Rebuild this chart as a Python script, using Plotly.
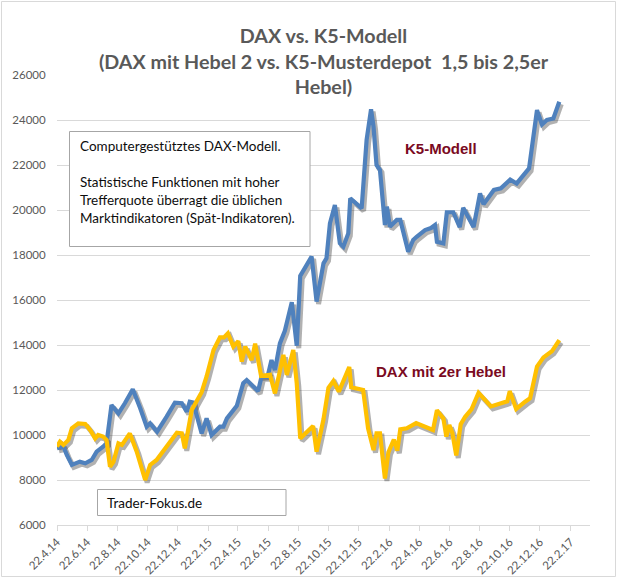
import plotly.graph_objects as go
import pandas as pd

# ---------------- data ----------------
k5_dates = ["2014-04-22","2014-05-05","2014-05-12","2014-05-22","2014-06-07","2014-06-18","2014-07-01","2014-07-11",
            "2014-07-24","2014-07-31","2014-08-10","2014-08-24","2014-09-06","2014-09-22","2014-10-07","2014-10-20",
            "2014-10-27","2014-11-10","2014-11-29","2014-12-16","2014-12-30","2015-01-09","2015-01-15","2015-01-22",
            "2015-02-08","2015-02-18","2015-02-28","2015-03-17","2015-03-24","2015-03-31","2015-04-20","2015-05-03",
            "2015-05-10","2015-06-02","2015-06-09","2015-06-21","2015-06-29","2015-07-06","2015-07-16","2015-07-26",
            "2015-08-09","2015-08-19","2015-08-26","2015-09-18","2015-09-28","2015-10-12","2015-10-18","2015-10-25",
            "2015-11-04","2015-11-14","2015-11-21","2015-12-01","2015-12-05","2015-12-28","2016-01-07","2016-01-16",
            "2016-01-21","2016-01-27","2016-02-03","2016-02-13","2016-02-17","2016-02-23","2016-03-08","2016-03-15",
            "2016-03-31","2016-04-10","2016-04-17","2016-05-04","2016-05-16","2016-05-24","2016-05-28","2016-06-10",
            "2016-06-17","2016-06-30","2016-07-13","2016-07-20","2016-08-10","2016-08-23","2016-08-30","2016-09-20",
            "2016-10-04","2016-10-23","2016-11-05","2016-11-30","2016-12-16","2016-12-26","2017-01-05","2017-01-18",
            "2017-01-30"]
k5_values = [9410, 9480, 9110, 8670, 8815, 8740, 8890, 9260, 9480, 9630, 11330, 10960, 11410, 12030, 11190, 10370,
             10520, 10150, 10810, 11440, 11410, 11040, 11480, 11440, 10070, 10740, 10000, 10370, 10370, 10740, 11300,
             12300, 12440, 11950, 12600, 12590, 13330, 12890, 14070, 14630, 15900, 13970, 17070, 17930, 15930, 17630,
             17850, 19410, 20220, 18520, 18370, 18960, 20520, 20070, 23110, 24480, 23700, 22000, 21780, 19330, 20150,
             19260, 19560, 19560, 18150, 18670, 18810, 19110, 19200, 19330, 18590, 18520, 19900, 19900, 19240, 20100,
             19240, 20740, 20260, 20890, 20960, 21350, 21180, 21850, 24440, 23800, 24000, 24070, 24810]

dax_dates = ["2014-04-22","2014-04-28","2014-05-05","2014-05-15","2014-05-22","2014-06-04","2014-06-18","2014-06-28",
             "2014-07-08","2014-07-14","2014-07-24","2014-07-31","2014-08-07","2014-08-14","2014-08-24","2014-08-31",
             "2014-09-16","2014-09-30","2014-10-17","2014-10-27","2014-11-09","2014-11-26","2014-12-20","2014-12-30",
             "2015-01-05","2015-01-19","2015-02-08","2015-02-18","2015-03-04","2015-03-17","2015-03-25","2015-04-02",
             "2015-04-13","2015-04-23","2015-04-30","2015-05-07","2015-05-20","2015-05-27","2015-06-08","2015-06-26",
             "2015-07-06","2015-07-23","2015-07-30","2015-08-12","2015-08-19","2015-08-26","2015-09-21","2015-09-28",
             "2015-10-12","2015-10-22","2015-11-01","2015-11-12","2015-11-21","2015-12-03","2015-12-07","2015-12-31",
             "2016-01-10","2016-01-21","2016-01-27","2016-02-03","2016-02-13","2016-02-20","2016-03-02","2016-03-09",
             "2016-03-15","2016-03-28","2016-04-16","2016-05-20","2016-05-28","2016-06-10","2016-06-16","2016-06-22",
             "2016-06-28","2016-07-06","2016-07-15","2016-07-24","2016-08-06","2016-08-20","2016-09-14","2016-09-29",
             "2016-10-17","2016-10-22","2016-11-04","2016-11-22","2016-12-02","2016-12-16","2016-12-29","2017-01-15",
             "2017-01-30"]
dax_values = [9480, 9700, 9560, 9780, 10300, 10520, 10490, 10220, 9850, 10000, 9930, 9780, 8590, 8810, 9630, 9560,
              10070, 9260, 8000, 8670, 8890, 9410, 10100, 10070, 9410, 11110, 11900, 12600, 13780, 14340, 14340, 14520,
              13930, 14170, 13260, 13930, 13330, 14060, 12630, 12680, 11850, 13560, 12670, 13780, 12300, 9850, 10400,
              9260, 10700, 12100, 12400, 11930, 12440, 13020, 12120, 12000, 10300, 9330, 10070, 10070, 8070, 9230,
              9800, 9300, 10250, 10300, 10530, 10220, 11100, 10740, 9930, 10440, 10100, 9090, 10480, 10810, 11150,
              11870, 11270, 11380, 11500, 11950, 11160, 11480, 11630, 13040, 13450, 13720, 14220]

tick_dates = ["2014-04-22","2014-06-22","2014-08-22","2014-10-22","2014-12-22","2015-02-22","2015-04-22","2015-06-22",
              "2015-08-22","2015-10-22","2015-12-22","2016-02-22","2016-04-22","2016-06-22","2016-08-22","2016-10-22",
              "2016-12-22","2017-02-22"]
tick_labels = ["22.4.14","22.6.14","22.8.14","22.10.14","22.12.14","22.2.15","22.4.15","22.6.15","22.8.15",
               "22.10.15","22.12.15","22.2.16","22.4.16","22.6.16","22.8.16","22.10.16","22.12.16","22.2.17"]

series_names = ["K5-Modell", "DAX mit 2er Hebel"]
title_text = "DAX vs. K5-Modell<br>(DAX mit Hebel 2 vs. K5-Musterdepot  1,5 bis 2,5er<br>Hebel)"
info_lines = ["Computergestütztes DAX-Modell.", "",
              "Statistische Funktionen mit hoher",
              "Trefferquote überragt die üblichen",
              "Marktindikatoren (Spät-Indikatoren)."]
site_text = "Trader-Fokus.de"

# ---------------- layout geometry ----------------
W, H = 618, 579
L, R, T, B = 57, 590, 75, 525
X0, X1 = pd.Timestamp("2014-04-22"), pd.Timestamp("2017-04-02")
Y0, Y1 = 6000, 26000


def px(x):
    return (x - L) / (R - L)


def py(y):
    return (B - y) / (B - T)


days_per_px = (X1 - X0) / (R - L)
val_per_px = (Y1 - Y0) / (B - T)
SH_DX, SH_DY = 2.0, 2.5
fmt = "%Y-%m-%d %H:%M:%S"
shadow_xrange = [(X0 - SH_DX * days_per_px).strftime(fmt), (X1 - SH_DX * days_per_px).strftime(fmt)]
shadow_yrange = [Y0 + SH_DY * val_per_px, Y1 + SH_DY * val_per_px]

BLUE = "#4F81BD"
GOLD = "#FFC000"
SHADOW = "rgba(40,40,40,0.36)"
GRID = "#D9D9D9"
AXTXT = "#595959"
LABEL_RED = "#7A0A22"
TXT = "#0D0D0D"

fig = go.Figure()

# shadows (drawn on offset axes)
for d, v in [(k5_dates, k5_values), (dax_dates, dax_values)]:
    fig.add_trace(go.Scatter(x=d, y=v, mode="lines", xaxis="x", yaxis="y",
                             line=dict(color=SHADOW, width=5),
                             hoverinfo="skip", showlegend=False))

# main series
fig.add_trace(go.Scatter(x=k5_dates, y=k5_values, mode="lines", name=series_names[0],
                         xaxis="x2", yaxis="y2", line=dict(color=BLUE, width=4.2), showlegend=False))
fig.add_trace(go.Scatter(x=dax_dates, y=dax_values, mode="lines", name=series_names[1],
                         xaxis="x2", yaxis="y2", line=dict(color=GOLD, width=4.2), showlegend=False))

annotations = []
for i, line in enumerate(info_lines):
    if line:
        annotations.append(dict(text=line, xref="paper", yref="paper", x=px(78), y=py(146 + i * 18.1),
                                xanchor="left", yanchor="middle", align="left", showarrow=False,
                                font=dict(family="Lato", size=13.5, color=TXT)))
annotations += [
    dict(text=site_text, xref="paper", yref="paper", x=px(105), y=py(502.5), xanchor="left",
         yanchor="middle", align="left", showarrow=False, font=dict(family="Lato", size=13.5, color=TXT)),
    dict(text="<b>" + series_names[0] + "</b>", xref="paper", yref="paper", x=px(441), y=py(148),
         xanchor="center", yanchor="middle", showarrow=False,
         font=dict(family="Liberation Sans", size=15, color=LABEL_RED)),
    dict(text="<b>" + series_names[1] + "</b>", xref="paper", yref="paper", x=px(441), y=py(371),
         xanchor="center", yanchor="middle", showarrow=False,
         font=dict(family="Liberation Sans", size=15, color=LABEL_RED)),
]

fig.update_layout(
    width=W, height=H, autosize=False,
    margin=dict(l=L, r=W - R, t=T, b=H - B, pad=0, autoexpand=False),
    paper_bgcolor="white", plot_bgcolor="white",
    font=dict(family="Lato, 'Open Sans', sans-serif", color=AXTXT),
    title=dict(text="<b>" + title_text + "</b>", x=0.5, xref="paper", xanchor="center",
               y=1 - 43 / H, yref="container", yanchor="middle",
               font=dict(family="Lato", size=19.7, color=AXTXT)),
    xaxis=dict(type="date", range=shadow_xrange, visible=False, domain=[0, 1], anchor="y", automargin=False),
    yaxis=dict(range=shadow_yrange, visible=False, domain=[0, 1], anchor="x", automargin=False),
    xaxis2=dict(type="date", range=[X0.strftime(fmt), X1.strftime(fmt)], overlaying="x", anchor="y2",
                side="bottom", tickmode="array", tickvals=tick_dates, ticktext=tick_labels,
                tickangle=-45, showgrid=False, zeroline=False, showline=True, linecolor=GRID, linewidth=1,
                ticks="outside", ticklen=5, tickcolor=GRID, tickwidth=1, automargin=False,
                tickfont=dict(family="Lato", size=11.5, color=AXTXT)),
    yaxis2=dict(range=[Y0, Y1], overlaying="y", anchor="x2", side="left", tickmode="linear", tick0=Y0,
                dtick=2000, tickformat="d", showgrid=True, gridcolor=GRID, gridwidth=1, zeroline=False,
                showline=False, ticks="outside", ticklen=8, tickcolor="rgba(0,0,0,0)", automargin=False,
                tickfont=dict(family="Lato", size=11.5, color=AXTXT)),
    shapes=[
        dict(type="rect", xref="paper", yref="paper", x0=px(1.5), x1=px(615.5), y0=py(1.5), y1=py(576.5),
             line=dict(color=GRID, width=1), fillcolor="rgba(0,0,0,0)", layer="below"),
        dict(type="rect", xref="paper", yref="paper", x0=px(69.5), x1=px(310), y0=py(131.5), y1=py(246.5),
             line=dict(color="#A6A6A6", width=1), fillcolor="white", layer="above"),
        dict(type="rect", xref="paper", yref="paper", x0=px(97.5), x1=px(286), y0=py(489.5), y1=py(515.5),
             line=dict(color="#A6A6A6", width=1), fillcolor="white", layer="above"),
    ],
    annotations=annotations,
)

fig.write_html("out.html", config={"displayModeBar": False},
               post_script="document.body.style.margin='0px';document.body.style.overflow='hidden';")
